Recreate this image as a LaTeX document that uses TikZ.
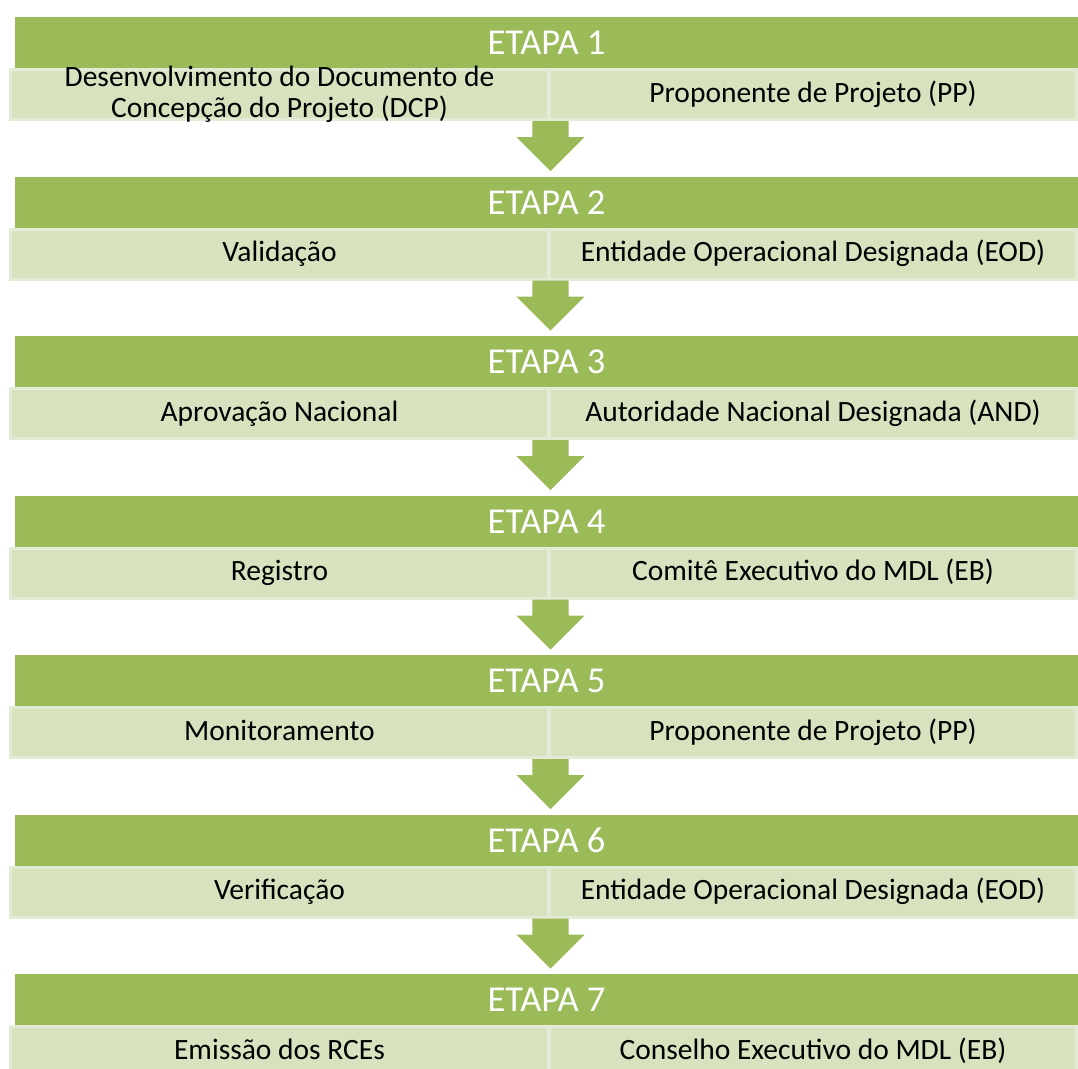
\documentclass[tikz,border=0pt]{standalone}
\usepackage{fontspec}
\setmainfont{Carlito}
\usetikzlibrary{positioning,shapes.arrows}
\definecolor{etapagreen}{HTML}{9BBB59}
\definecolor{celllight}{HTML}{D7E3BF}
\definecolor{celledge}{HTML}{E3EAD6}

\begin{document}
\begin{tikzpicture}[
  x=1pt, y=1pt,
  node distance=108.5pt,
  head/.style={fill=etapagreen, minimum width=1063pt, minimum height=51pt,
    inner sep=0pt, outer sep=0pt, text=white, text height=24pt, text depth=0pt,
    font=\fontsize{36.5}{42}\selectfont},
  cell/.style={fill=celllight, draw=celledge, line width=3pt, minimum height=50pt,
    inner sep=0pt, outer sep=0pt, text height=21pt, text depth=6pt,
    font=\fontsize{29.5}{31}\selectfont},
  lcell/.style={cell, anchor=north west, minimum width=538pt},
  rcell/.style={cell, minimum width=527pt},
  darrow/.style={single arrow, fill=etapagreen, rotate=-90, anchor=tail,
    minimum height=50pt, inner xsep=0pt, inner ysep=18pt,
    single arrow head extend=16pt, single arrow head indent=0pt,
    single arrow tip angle=90}
]
  \useasboundingbox (0,0) rectangle (1078,-1068);

  \node[head] (h1) at (546.5,-42.5) {ETAPA 1};
  \node[head, below=of h1] (h2) {ETAPA 2};
  \node[head, below=of h2] (h3) {ETAPA 3};
  \node[head, below=of h3] (h4) {ETAPA 4};
  \node[head, below=of h4] (h5) {ETAPA 5};
  \node[head, below=of h5] (h6) {ETAPA 6};
  \node[head, below=of h6] (h7) {ETAPA 7};

  \node[lcell, label={[font=\fontsize{29.5}{31}\selectfont, align=center]center:{Desenvolvimento do Documento de\\Concepção do Projeto (DCP)}}]
    (a1) at ([xshift=-4.5pt, yshift=-1.5pt]h1.south west) {};
  \node[rcell, right=1pt of a1] (b1) {Proponente de Projeto (PP)};
  \node[lcell] (a2) at ([xshift=-4.5pt, yshift=-1.5pt]h2.south west) {Validação};
  \node[rcell, right=1pt of a2] (b2) {Entidade Operacional Designada (EOD)};
  \node[lcell] (a3) at ([xshift=-4.5pt, yshift=-1.5pt]h3.south west) {Aprovação Nacional};
  \node[rcell, right=1pt of a3] (b3) {Autoridade Nacional Designada (AND)};
  \node[lcell] (a4) at ([xshift=-4.5pt, yshift=-1.5pt]h4.south west) {Registro};
  \node[rcell, right=1pt of a4] (b4) {Comitê Executivo do MDL (EB)};
  \node[lcell] (a5) at ([xshift=-4.5pt, yshift=-1.5pt]h5.south west) {Monitoramento};
  \node[rcell, right=1pt of a5] (b5) {Proponente de Projeto (PP)};
  \node[lcell] (a6) at ([xshift=-4.5pt, yshift=-1.5pt]h6.south west) {Verificação};
  \node[rcell, right=1pt of a6] (b6) {Entidade Operacional Designada (EOD)};
  \node[lcell] (a7) at ([xshift=-4.5pt, yshift=-1.5pt]h7.south west) {Emissão dos RCEs};
  \node[rcell, right=1pt of a7] (b7) {Conselho Executivo do MDL (EB)};

  % arrows between the stages
  \node[darrow] (d1) at ([xshift=2pt, yshift=-1.5pt]a1.south east) {};
  \node[darrow] (d2) at ([xshift=2pt, yshift=-1.5pt]a2.south east) {};
  \node[darrow] (d3) at ([xshift=2pt, yshift=-1.5pt]a3.south east) {};
  \node[darrow] (d4) at ([xshift=2pt, yshift=-1.5pt]a4.south east) {};
  \node[darrow] (d5) at ([xshift=2pt, yshift=-1.5pt]a5.south east) {};
  \node[darrow] (d6) at ([xshift=2pt, yshift=-1.5pt]a6.south east) {};
\end{tikzpicture}
\end{document}
